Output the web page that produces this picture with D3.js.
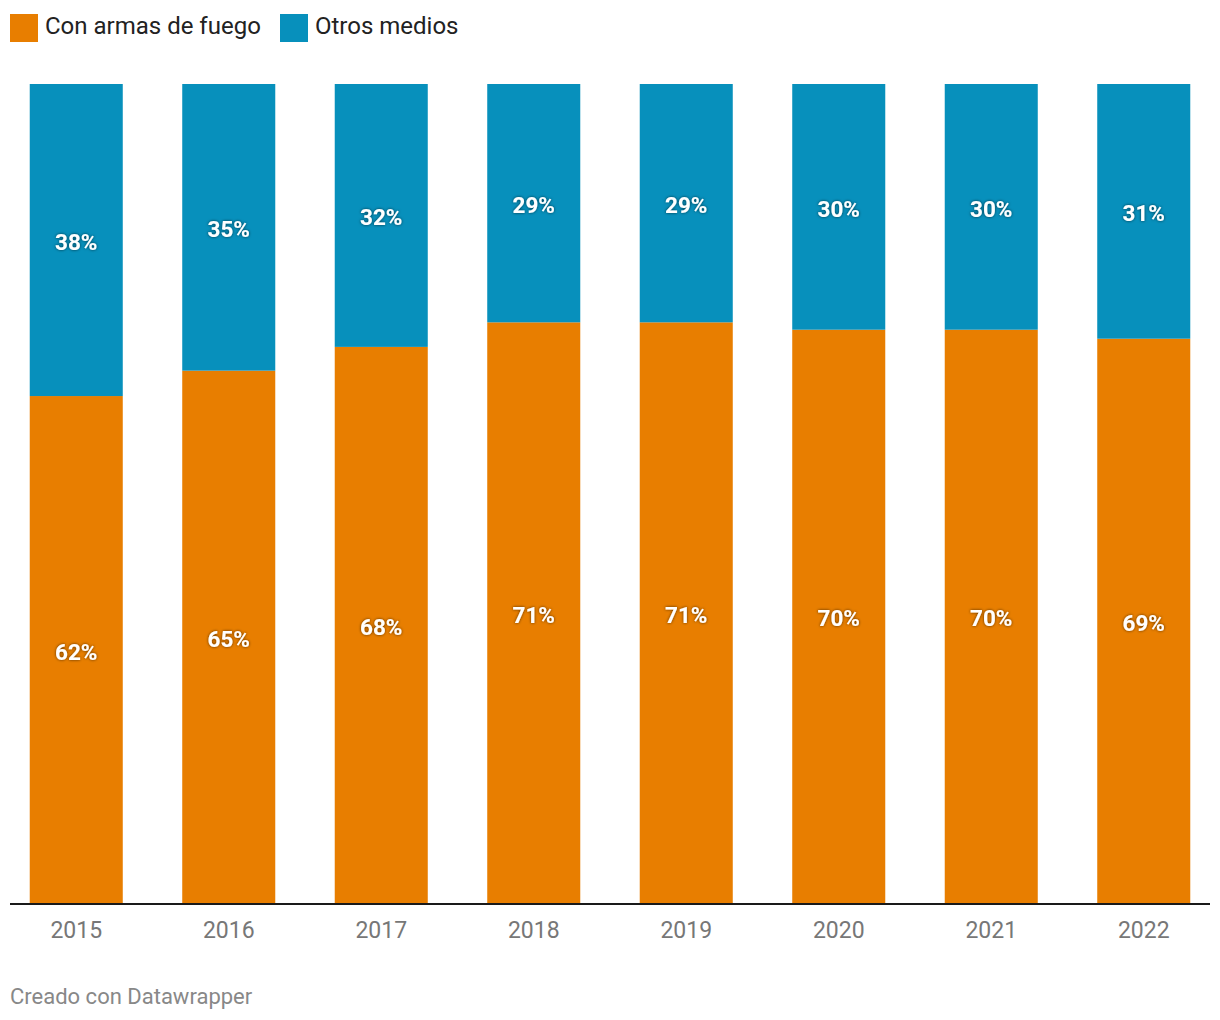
<!DOCTYPE html>
<html><head><meta charset="utf-8">
<script src="https://cdn.jsdelivr.net/npm/d3@7"></script>
<style>
body{margin:0;background:#fff;font-family:Roboto,"Noto Sans",sans-serif;}
.lbl{font-weight:700;fill:#fff;}
</style></head><body>
<svg id="c" width="1220" height="1020"></svg>
<script>
const years = ["2015","2016","2017","2018","2019","2020","2021","2022"];
const armas = [61.9, 65.0, 67.9, 70.9, 70.9, 70.0, 70.0, 68.9];
const otros = [38.1, 35.0, 32.1, 29.1, 29.1, 30.0, 30.0, 31.1];
const armasLabels = ["62%","65%","68%","71%","71%","70%","70%","69%"];
const otrosLabels = ["38%","35%","32%","29%","29%","30%","30%","31%"];
const seriesNames = ["Con armas de fuego","Otros medios"];
const colors = ["#e87e00","#0790bc"];

const svg = d3.select("#c");
const defs = svg.append("defs");
const f = defs.append("filter").attr("id","sh").attr("x","-20%").attr("y","-40%").attr("width","140%").attr("height","180%");
f.append("feDropShadow").attr("dx",0).attr("dy",0).attr("stdDeviation",1.8).attr("flood-color","#000").attr("flood-opacity",0.65);

const x = d3.scaleBand().domain(years).range([0,1220]).paddingInner(0.39).paddingOuter(0.195);
const y = d3.scaleLinear().domain([0,100]).range([903,84]);

const data = years.map((yr,i)=>({yr, a:armas[i], o:otros[i], al:armasLabels[i], ol:otrosLabels[i]}));

// orange
svg.append("g").selectAll("rect").data(data).join("rect")
  .attr("x",d=>x(d.yr)).attr("width",x.bandwidth())
  .attr("y",d=>y(d.a)).attr("height",d=>y(0)-y(d.a)).attr("fill",colors[0]);
// blue
svg.append("g").selectAll("rect").data(data).join("rect")
  .attr("x",d=>x(d.yr)).attr("width",x.bandwidth())
  .attr("y",d=>y(d.a+d.o)).attr("height",d=>y(d.a)-y(d.a+d.o)).attr("fill",colors[1]);

// labels
const lg = svg.append("g").attr("filter","url(#sh)");
lg.selectAll("text.a").data(data).join("text").attr("class","lbl a")
  .attr("x",d=>x(d.yr)+x.bandwidth()/2).attr("y",d=>(y(0)+y(d.a))/2+2)
  .attr("text-anchor","middle").attr("dominant-baseline","central")
  .attr("font-size",22.5).text(d=>d.al);
lg.selectAll("text.o").data(data).join("text").attr("class","lbl o")
  .attr("x",d=>x(d.yr)+x.bandwidth()/2).attr("y",d=>(y(d.a)+y(d.a+d.o))/2+2)
  .attr("text-anchor","middle").attr("dominant-baseline","central")
  .attr("font-size",22.5).text(d=>d.ol);

// axis
const ax = svg.append("g").attr("transform","translate(0,903)")
  .call(d3.axisBottom(x).tickSize(0).tickPadding(19));
ax.select(".domain").remove();
ax.selectAll("text").attr("font-size",23).attr("fill","#777").attr("font-family","Roboto,sans-serif");
svg.append("line").attr("x1",10).attr("x2",1210).attr("y1",904).attr("y2",904)
  .attr("stroke","#1a1a1a").attr("stroke-width",2);

// legend
const leg = svg.append("g");
const lx = [10,280];
seriesNames.forEach((n,i)=>{
  leg.append("rect").attr("x",lx[i]).attr("y",14).attr("width",28).attr("height",28).attr("fill",colors[i]);
  leg.append("text").attr("x",lx[i]+35).attr("y",26).attr("dominant-baseline","central")
    .attr("font-size",24).attr("fill","#222").text(n);
});

// footer
svg.append("text").attr("x",10).attr("y",1004).attr("font-size",22).attr("fill","#888").text("Creado con Datawrapper");
</script>
</body></html>
